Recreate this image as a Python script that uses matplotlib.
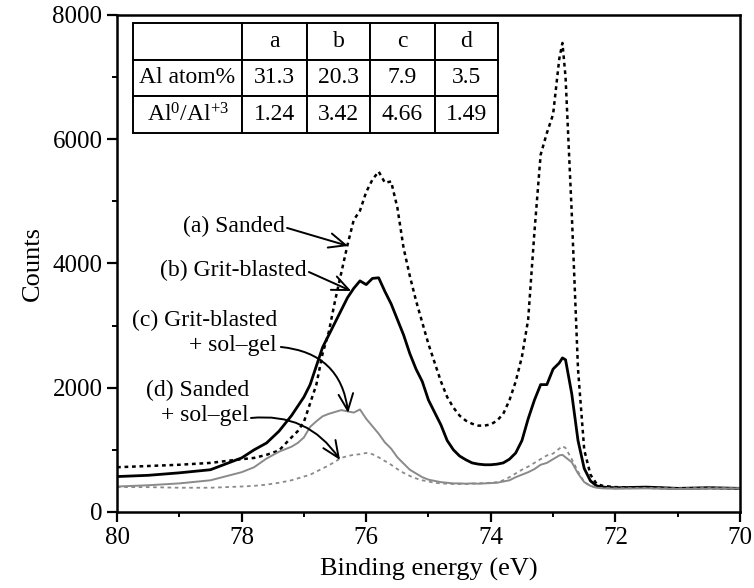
import numpy as np
import matplotlib
matplotlib.use("Agg")
import matplotlib.pyplot as plt

# binding energy grid (eV)
energy = [80.0, 79.5, 79.0, 78.5, 78.0, 77.8, 77.6, 77.4,
          77.2, 77.1, 77.0, 76.9, 76.8, 76.7, 76.6, 76.5, 76.4, 76.3,
          76.2, 76.1, 76.0, 75.9, 75.8, 75.7, 75.6, 75.5, 75.4, 75.3,
          75.2, 75.1, 75.0, 74.9, 74.8, 74.7, 74.6, 74.5, 74.4, 74.3,
          74.2, 74.1, 74.0, 73.9, 73.8, 73.7, 73.6, 73.5, 73.4, 73.3,
          73.2, 73.1, 73.0, 72.9, 72.85, 72.8, 72.7, 72.6, 72.5, 72.4,
          72.3, 72.2, 72.0, 71.5, 71.0, 70.5, 70.0]

sanded = [720, 740, 760, 790, 850, 870, 920, 990,
          1200, 1300, 1450, 1750, 2050, 2550, 2900, 3400, 3850, 4300,
          4700, 4850, 5150, 5350, 5480, 5300, 5320, 4900, 4250, 3800,
          3400, 3050, 2700, 2400, 2100, 1850, 1680, 1550, 1470, 1420,
          1390, 1390, 1410, 1470, 1580, 1800, 2100, 2500, 3100, 4500,
          5750, 6100, 6400, 7300, 7550, 7000, 4800, 2300, 1000, 600,
          450, 420, 400, 390, 380, 385, 380]

grit = [570, 590, 630, 680, 870, 1000, 1110, 1300,
        1550, 1700, 1850, 2050, 2350, 2650, 2850, 3050, 3250, 3450,
        3600, 3720, 3660, 3760, 3770, 3550, 3350, 3100, 2850, 2550,
        2300, 2100, 1800, 1600, 1400, 1150, 1000, 900, 840, 790,
        770, 760, 760, 770, 790, 850, 950, 1150, 1500, 1800,
        2050, 2050, 2300, 2400, 2480, 2450, 1900, 1150, 700, 500,
        420, 400, 390, 400, 380, 390, 380]

grit_solgel = [410, 430, 460, 510, 640, 720, 860, 970,
               1050, 1110, 1200, 1370, 1460, 1540, 1580, 1610, 1640, 1620,
               1600, 1650, 1500, 1380, 1260, 1120, 1020, 880, 780, 680,
               620, 560, 520, 500, 480, 470, 460, 460, 455, 460,
               455, 460, 465, 470, 490, 510, 560, 600, 640, 690,
               760, 790, 850, 910, 920, 880, 800, 620, 480, 420,
               390, 380, 375, 380, 370, 375, 380]

sanded_solgel = [400, 400, 390, 390, 410, 420, 440, 470,
                 510, 540, 570, 600, 650, 700, 750, 810, 870, 900,
                 920, 930, 950, 930, 880, 820, 760, 690, 630, 580,
                 540, 510, 490, 470, 460, 455, 450, 450, 450, 455,
                 460, 465, 470, 480, 510, 560, 620, 680, 730, 790,
                 850, 910, 940, 1020, 1060, 1030, 850, 650, 480, 420,
                 390, 385, 380, 385, 380, 385, 380]

col_labels = ["", "a", "b", "c", "d"]
row_atom = ["Al atom%", "31.3", "20.3", "7.9", "3.5"]
row_ratio = [r"Al$^{0}$/Al$^{+3}$", "1.24", "3.42", "4.66", "1.49"]

plt.rcParams["font.family"] = ["Liberation Serif", "DejaVu Serif"]
plt.rcParams["mathtext.fontset"] = "custom"
plt.rcParams["mathtext.rm"] = "Liberation Serif"
plt.rcParams["mathtext.it"] = "Liberation Serif:italic"

fig = plt.figure(figsize=(7.54, 5.88), dpi=100)
ax = fig.add_axes([0.1552, 0.1293, 0.8262, 0.8452])

ax.plot(energy, sanded, color="black", lw=1.8, linestyle=(0, (1.5, 1.5)))
ax.plot(energy, grit, color="black", lw=2.0)
ax.plot(energy, grit_solgel, color="#8a8a8a", lw=1.4)
ax.plot(energy, sanded_solgel, color="#8a8a8a", lw=1.3, linestyle=(0, (2, 2)))

ax.set_xlim(80, 70)
ax.set_ylim(0, 8000)
ax.set_xticks(np.arange(80, 69, -2))
ax.set_xticks(np.arange(80, 69, -1), minor=True)
ax.set_yticks(np.arange(0, 8001, 2000))
ax.set_yticks(np.arange(0, 8001, 1000), minor=True)
ax.tick_params(which="major", direction="out", length=7, width=1.6, labelsize=18)
ax.tick_params(which="minor", direction="out", length=3.6, width=1.4)
ax.tick_params(axis="x", which="both", top=False)
ax.tick_params(axis="y", which="both", right=False)
for s in ax.spines.values():
    s.set_linewidth(1.8)

ax.set_xlabel("Binding energy (eV)", fontsize=19, labelpad=7)
ax.set_ylabel("Counts", fontsize=19, labelpad=6)

# composition table
tab = ax.table(cellText=[col_labels, row_atom, row_ratio],
               cellLoc="center",
               colWidths=[109, 65, 63, 65, 63],
               bbox=[0.0257, 0.7626, 0.5859, 0.2214])
tab.auto_set_font_size(False)
tab.set_fontsize(17)
for cell in tab.get_celld().values():
    cell.set_linewidth(1.4)

# annotations
fs = 17
ax.text(77.30, 4604, "(a) Sanded", ha="right", va="center", fontsize=fs)
ax.text(76.95, 3895, "(b) Grit-blasted", ha="right", va="center", fontsize=fs)
ax.text(77.43, 2881, "(c) Grit-blasted\n+ sol\u2013gel", ha="right", va="center",
        fontsize=fs, linespacing=1.25)
ax.text(77.88, 1755, "(d) Sanded\n+ sol\u2013gel", ha="right", va="center",
        fontsize=fs, linespacing=1.25)

arrow = dict(arrowstyle="->,head_length=0.8,head_width=0.35", color="black",
             lw=1.4, shrinkA=0, shrinkB=0, mutation_scale=15)
ax.annotate("", xy=(76.29, 4282), xytext=(77.27, 4572), arrowprops=arrow)
ax.annotate("", xy=(76.24, 3557), xytext=(76.92, 3863), arrowprops=arrow)
ax.annotate("", xy=(76.29, 1594), xytext=(77.37, 2656),
            arrowprops=dict(arrow, connectionstyle="arc3,rad=-0.4"))
ax.annotate("", xy=(76.42, 837), xytext=(77.85, 1513),
            arrowprops=dict(arrow, connectionstyle="arc3,rad=-0.3"))

fig.savefig("out.png", dpi=100)
